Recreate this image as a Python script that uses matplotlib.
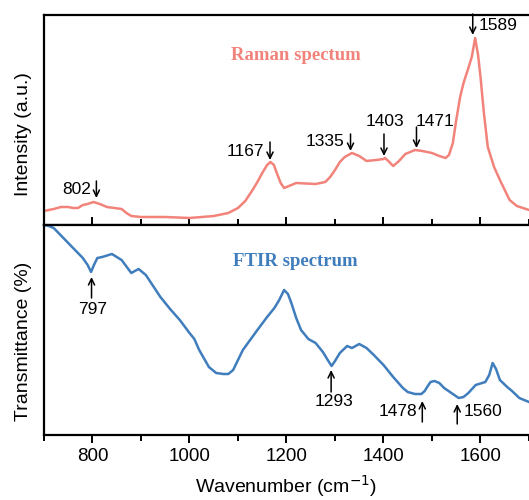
import numpy as np
import matplotlib.pyplot as plt
from matplotlib.ticker import MultipleLocator

# Raman spectrum (arbitrary units)
raman_x = [700, 720, 735, 750, 760, 770, 780, 790, 802, 815, 830, 845, 860, 870, 880, 900,
           950, 1000, 1050, 1080, 1100, 1115, 1130, 1140, 1150, 1160, 1167, 1174, 1180,
           1188, 1195, 1205, 1220, 1260, 1280, 1290, 1300, 1310, 1320, 1335, 1350, 1365,
           1385, 1400, 1403, 1410, 1420, 1432, 1445, 1465, 1480, 1500, 1515, 1528, 1535,
           1543, 1550, 1558, 1565, 1575, 1582, 1589, 1595, 1600, 1607, 1615, 1628, 1640,
           1660, 1675, 1700]
raman_y = [14, 16, 18, 18, 17, 17, 20, 21, 23, 21, 18, 17, 16, 12, 9, 8,
           8, 7, 9, 12, 17, 24, 35, 43, 52, 60, 63, 60, 52,
           42, 37, 39, 42, 41, 43, 48, 55, 63, 68, 72, 69, 64,
           65, 66, 67, 64, 59, 64, 71, 75, 74, 72, 69, 67, 70,
           82, 105, 128, 142, 157, 168, 187, 170, 148, 112, 78, 58, 45,
           25, 19, 15]

# FTIR spectrum (arbitrary units)
ftir_x = [700, 710, 720, 730, 740, 760, 780, 790, 797, 803, 810, 820, 840, 860, 880, 895,
          910, 940, 960, 980, 1000, 1010, 1020, 1040, 1055, 1070, 1080, 1090, 1110, 1125,
          1140, 1160, 1175, 1185, 1195, 1203, 1210, 1220, 1230, 1245, 1260, 1275, 1285,
          1293, 1300, 1310, 1325, 1335, 1350, 1365, 1380, 1400, 1420, 1440, 1450, 1465,
          1478, 1485, 1490, 1497, 1505, 1515, 1525, 1540, 1555, 1565, 1575, 1590, 1610,
          1618, 1625, 1632, 1640, 1655, 1665, 1680, 1700]
ftir_y = [210, 209, 207, 202, 197, 187, 177, 170, 163, 170, 177, 178, 181, 175, 162, 166,
          160, 138, 126, 115, 102, 96, 85, 68, 62, 61, 61, 65, 85, 95,
          105, 118, 127, 135, 145, 141, 132, 117, 105, 96, 92, 83, 75,
          69, 74, 82, 89, 87, 91, 87, 80, 70, 58, 47, 43, 41,
          41, 44, 48, 53, 54, 52, 47, 42, 37, 38, 42, 50, 53,
          60, 72, 66, 55, 48, 44, 37, 33]

raman_color = '#f2837b'
ftir_color = '#3f7dbd'
num_font = ['Liberation Sans', 'DejaVu Sans']


def arrow(ax, x, y_from, y_to):
    ax.annotate('', xy=(x, y_to), xytext=(x, y_from),
                arrowprops=dict(arrowstyle='->,head_length=0.45,head_width=0.22',
                                lw=1.1, color='black', shrinkA=0, shrinkB=0))


fig = plt.figure(figsize=(5.29, 5.0), dpi=100)
ax1 = fig.add_axes([44 / 529, 0.55, 485 / 529, 0.42])
ax2 = fig.add_axes([44 / 529, 0.13, 485 / 529, 0.42], sharex=ax1)

ax1.plot(raman_x, raman_y, color=raman_color, lw=1.8, solid_joinstyle='round')
ax2.plot(ftir_x, ftir_y, color=ftir_color, lw=1.8, solid_joinstyle='round')

for ax in (ax1, ax2):
    ax.set_xlim(700, 1700)
    ax.set_ylim(0, 210)
    ax.set_yticks([])
    ax.spines['right'].set_visible(False)
    for s in ax.spines.values():
        s.set_linewidth(1.6)
    ax.xaxis.set_major_locator(MultipleLocator(200))
    ax.xaxis.set_minor_locator(MultipleLocator(100))

ax1.tick_params(axis='x', which='both', direction='in', labelbottom=False, width=1.4)
ax1.tick_params(axis='x', which='major', length=6)
ax1.tick_params(axis='x', which='minor', length=4)
ax2.tick_params(axis='x', which='both', direction='out', width=1.4)
ax2.tick_params(axis='x', which='major', length=6, labelsize=13.5)
ax2.tick_params(axis='x', which='minor', length=4)
for lab in ax2.get_xticklabels():
    lab.set_family(num_font)

ax1.set_ylabel('Intensity (a.u.)', fontsize=14, family=num_font)
ax2.set_ylabel('Transmittance (%)', fontsize=14, family=num_font)
ax1.yaxis.set_label_coords(-0.024, 0.435)
ax2.yaxis.set_label_coords(-0.024, 0.445)
ax2.set_xlabel('Wavenumber (cm$^{-1}$)', fontsize=14, family=num_font, labelpad=6)

ax1.text(1219, 170, 'Raman spectum', color=raman_color, fontsize=13.5,
         family='Liberation Serif', weight='bold', ha='center', va='center')
ax2.text(1219, 173, 'FTIR spectrum', color=ftir_color, fontsize=13.5,
         family='Liberation Serif', weight='bold', ha='center', va='center')

kw = dict(fontsize=12.5, family=num_font, ha='center', va='center')

# Raman peak labels
ax1.text(768, 35, '802', **kw)
arrow(ax1, 808, 44, 27)
ax1.text(1116, 74, '1167', **kw)
arrow(ax1, 1166, 83, 65)
ax1.text(1279, 83, '1335', **kw)
arrow(ax1, 1332, 91, 74)
ax1.text(1403, 104, '1403', **kw)
arrow(ax1, 1401, 91, 69)
ax1.text(1507, 104, '1471', **kw)
arrow(ax1, 1468, 98, 77)
ax1.text(1637, 200, '1589', **kw)
arrow(ax1, 1584, 211, 190)

# FTIR band labels
arrow(ax2, 798, 137, 158)
ax2.text(800, 125, '797', **kw)
arrow(ax2, 1292, 43, 65)
ax2.text(1297, 33, '1293', **kw)
ax2.text(1430, 23, '1478', **kw)
arrow(ax2, 1480, 13, 34)
ax2.text(1606, 23, '1560', **kw)
arrow(ax2, 1552, 11, 31)

fig.savefig('out.png', dpi=100)
